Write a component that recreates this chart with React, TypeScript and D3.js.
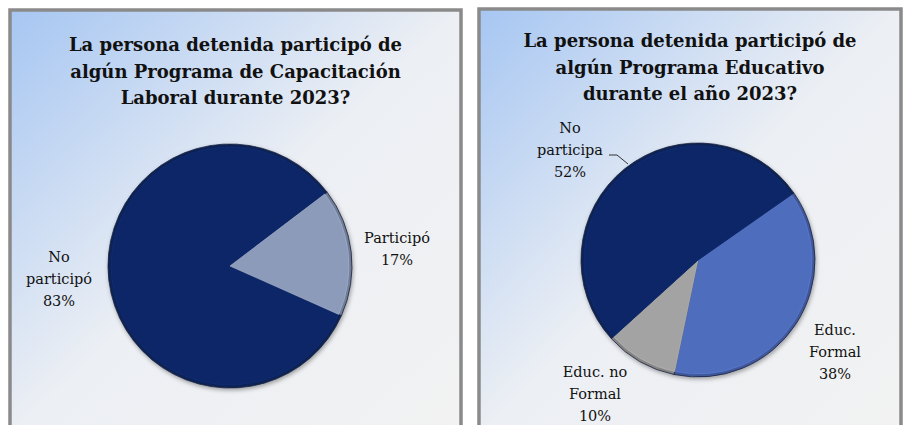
import * as d3 from "d3";

// Panel 1: capacitación laboral
const laboralLabels = ["No participó", "Participó"];
const laboralValues = [83, 17];
const laboralColors = ["#0b2868", "#8c9bb9"];

// Panel 2: programa educativo
const educLabels = ["Educ. Formal", "Educ. no Formal", "No participa"];
const educValues = [38, 10, 52];
const educColors = ["#4f6dbd", "#a3a3a3", "#0b2868"];

const titleLaboral = ["La persona detenida participó de", "algún Programa de Capacitación", "Laboral durante 2023?"];
const titleEduc = ["La persona detenida participó de", "algún Programa Educativo", "durante el año 2023?"];

const W = 906;
const H = 425;
const deg = Math.PI / 180;
const FONT = "DejaVu Serif";

function Panel({ id, x, w, top, title, titleY, cx, cy, r, values, colors, start, labelPos }) {
  const pie = d3.pie<number>().sort(null).value((d) => d).startAngle(start * deg).endAngle(start * deg + 2 * Math.PI);
  const arcs = pie(values);
  const arc = d3.arc<d3.PieArcDatum<number>>().innerRadius(0).outerRadius(r);
  const inner = d3.arc<d3.PieArcDatum<number>>().innerRadius(0).outerRadius(r - 3);
  return (
    <g>
      <defs>
        <linearGradient id={`bg${id}`} x1="0" y1="0" x2="1" y2="1">
          <stop offset="0" stopColor="#a6c6f2" />
          <stop offset="0.5" stopColor="#eceff4" />
          <stop offset="1" stopColor="#f2f2f2" />
        </linearGradient>
        <filter id={`sh${id}`} x="-20%" y="-20%" width="140%" height="140%">
          <feDropShadow dx="1" dy="2" stdDeviation="2" floodColor="#000" floodOpacity="0.35" />
        </filter>
      </defs>
      <rect x={x} y={top} width={w} height={H - top + 10} fill={`url(#bg${id})`} stroke="#8a8a8a" strokeWidth={3.5} />
      {title.map((t, i) => (
        <text key={i} x={x + w / 2} y={titleY + i * 26.5} textAnchor="middle" fontFamily={FONT} fontWeight="bold" fontSize={18} fill="#111">
          {t}
        </text>
      ))}
      <g transform={`translate(${cx},${cy})`} filter={`url(#sh${id})`}>
        {arcs.map((a, i) => (
          <g key={i}>
            <path d={arc(a) || ""} fill={d3.color(colors[i])!.darker(0.6).toString()} stroke="#1c2340" strokeWidth={0.8} />
            <path d={inner(a) || ""} fill={colors[i]} stroke={d3.color(colors[i])!.brighter(0.4).toString()} strokeWidth={1} strokeOpacity={0.6} />
          </g>
        ))}
      </g>
      {labelPos.map((p, i) => (
        <text key={i} x={p.x} y={p.y} textAnchor="middle" fontFamily={FONT} fontSize={14.5} fill="#111">
          {p.lines.map((ln, j) => (
            <tspan key={j} x={p.x} dy={j === 0 ? 0 : 22}>{ln}</tspan>
          ))}
        </text>
      ))}
    </g>
  );
}

export default function App() {
  const pctLines = (v: number, split: string[]) => [...split, `${v}%`];
  return (
    <svg width={W} height={H} style={{ position: "absolute", left: 0, top: 0, background: "#fff" }}>
      <Panel
        id="a"
        x={10}
        w={451}
        top={10}
        title={titleLaboral}
        titleY={51}
        cx={230}
        cy={266}
        r={122}
        values={laboralValues}
        colors={laboralColors}
        start={114}
        labelPos={[
          { x: 59, y: 262, lines: pctLines(laboralValues[0], ["No", "participó"]) },
          { x: 397, y: 243, lines: pctLines(laboralValues[1], ["Participó"]) },
        ]}
      />
      <Panel
        id="b"
        x={479}
        w={422}
        top={9}
        title={titleEduc}
        titleY={47}
        cx={698}
        cy={260}
        r={117}
        values={educValues}
        colors={educColors}
        start={55}
        labelPos={[
          { x: 835, y: 335, lines: pctLines(educValues[0], ["Educ.", "Formal"]) },
          { x: 595, y: 377, lines: pctLines(educValues[1], ["Educ. no", "Formal"]) },
          { x: 570, y: 133, lines: pctLines(educValues[2], ["No", "participa"]) },
        ]}
      />
      <path d="M609,155 L617,155 L628,164" fill="none" stroke="#333" strokeWidth={1} />
    </svg>
  );
}
